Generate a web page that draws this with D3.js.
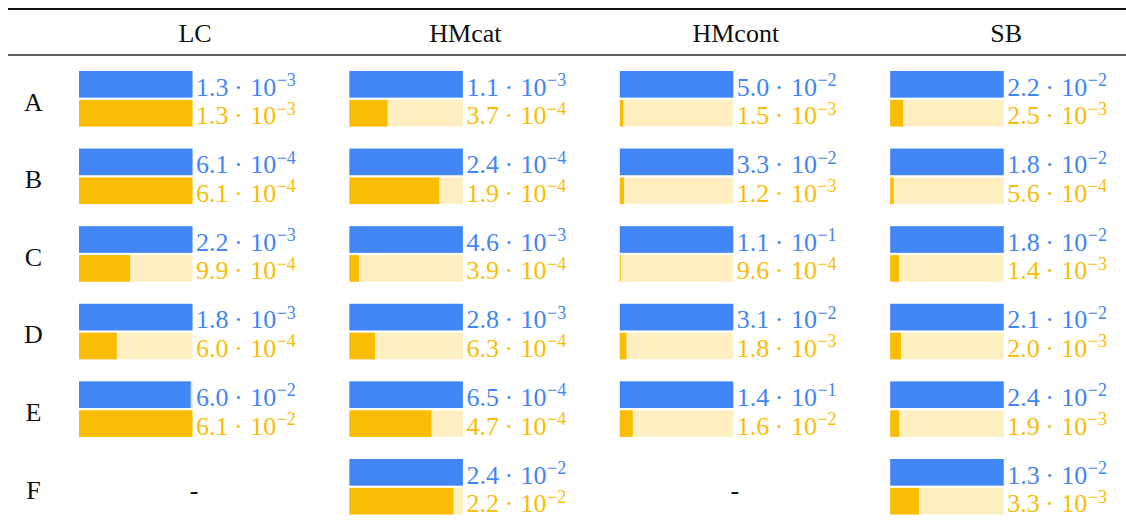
<!DOCTYPE html>
<html>
<head>
<meta charset="utf-8">
<script src="https://cdn.jsdelivr.net/npm/d3@7"></script>
<style>
  html, body { margin: 0; padding: 0; background: #fff; }
  svg { display: block; }
  text { font-family: "Liberation Serif", "DejaVu Serif", serif; }
</style>
</head>
<body>
<svg id="chart" width="1126" height="530"></svg>
<script>
// Methods (columns) and cases (rows)
const methods = ["LC", "HMcat", "HMcont", "SB"];
const cases = ["A", "B", "C", "D", "E", "F"];

// Blue series, one array per method (null = not available)
const blueLC     = [1.3e-3, 6.1e-4, 2.2e-3, 1.8e-3, 6.0e-2, null];
const blueHMcat  = [1.1e-3, 2.4e-4, 4.6e-3, 2.8e-3, 6.5e-4, 2.4e-2];
const blueHMcont = [5.0e-2, 3.3e-2, 1.1e-1, 3.1e-2, 1.4e-1, null];
const blueSB     = [2.2e-2, 1.8e-2, 1.8e-2, 2.1e-2, 2.4e-2, 1.3e-2];

// Yellow series, one array per method
const yellowLC     = [1.3e-3, 6.1e-4, 9.9e-4, 6.0e-4, 6.1e-2, null];
const yellowHMcat  = [3.7e-4, 1.9e-4, 3.9e-4, 6.3e-4, 4.7e-4, 2.2e-2];
const yellowHMcont = [1.5e-3, 1.2e-3, 9.6e-4, 1.8e-3, 1.6e-2, null];
const yellowSB     = [2.5e-3, 5.6e-4, 1.4e-3, 2.0e-3, 1.9e-3, 3.3e-3];

const blueByMethod = { LC: blueLC, HMcat: blueHMcat, HMcont: blueHMcont, SB: blueSB };
const yellowByMethod = { LC: yellowLC, HMcat: yellowHMcat, HMcont: yellowHMcont, SB: yellowSB };

const COLORS = {
  blue: "#4285F4", blueTrack: "#D2E3FC",
  yellow: "#FBBC04", yellowTrack: "#FEEFC3",
  ink: "#111"
};

const svg = d3.select("#chart");

// Layout
const barW = 113.5, barH = 26.6, barGap = 2.3;
const colX = d3.scalePoint().domain(methods).range([79, 79 + 3 * 270.4]);
const rowY = d3.scalePoint().domain(cases).range([71, 71 + 5 * 77.6]);

// Table rules
svg.append("line").attr("x1", 8).attr("x2", 1126).attr("y1", 9).attr("y2", 9)
  .attr("stroke", COLORS.ink).attr("stroke-width", 2);
svg.append("line").attr("x1", 8).attr("x2", 1126).attr("y1", 55).attr("y2", 55)
  .attr("stroke", "#2a2a2a").attr("stroke-width", 1.4);

// Column headers
svg.selectAll("text.header").data(methods).join("text")
  .attr("class", "header")
  .attr("x", d => colX(d) + 116)
  .attr("y", 41.5)
  .attr("text-anchor", "middle")
  .attr("font-size", 26)
  .attr("fill", COLORS.ink)
  .text(d => d);

// Row labels
svg.selectAll("text.rowlabel").data(cases).join("text")
  .attr("class", "rowlabel")
  .attr("x", 33.5)
  .attr("y", d => rowY(d) + 39.5)
  .attr("text-anchor", "middle")
  .attr("font-size", 26)
  .attr("fill", COLORS.ink)
  .text(d => d);

// Scientific notation label: mantissa · 10^exp
function sciLabel(sel, v, color) {
  const e = Math.floor(Math.log10(v) + 1e-9);
  const m = (v / Math.pow(10, e)).toFixed(1);
  sel.attr("fill", color).attr("font-size", 26);
  sel.append("tspan").text(m);
  sel.append("tspan").attr("dx", 5.5).text("\u00B7");
  sel.append("tspan").attr("dx", 7.5).text("10");
  sel.append("tspan").attr("dy", -9.7).attr("dx", 0.5).attr("font-size", 18)
    .text("\u2212" + Math.abs(e));
}

const cells = [];
methods.forEach(m => cases.forEach((c, i) => {
  cells.push({ method: m, row: c, blue: blueByMethod[m][i], yellow: yellowByMethod[m][i] });
}));

cells.forEach(d => {
  const x0 = colX(d.method), y0 = rowY(d.row);
  const g = svg.append("g").attr("transform", `translate(${x0},${y0})`);
  if (d.blue == null) {
    g.append("text")
      .attr("x", 115).attr("y", 39.5)
      .attr("text-anchor", "middle")
      .attr("font-size", 26)
      .attr("fill", COLORS.ink)
      .text("-");
    return;
  }
  const w = d3.scaleLinear().domain([0, Math.max(d.blue, d.yellow)]).range([0, barW]);
  const yBlue = 0, yYellow = barH + barGap;

  // tracks
  g.append("rect").attr("x", 0).attr("y", yBlue).attr("width", barW).attr("height", barH)
    .attr("fill", COLORS.blueTrack);
  g.append("rect").attr("x", 0).attr("y", yYellow).attr("width", barW).attr("height", barH)
    .attr("fill", COLORS.yellowTrack);
  // bars
  g.append("rect").attr("x", 0).attr("y", yBlue).attr("width", w(d.blue)).attr("height", barH)
    .attr("fill", COLORS.blue);
  g.append("rect").attr("x", 0).attr("y", yYellow).attr("width", w(d.yellow)).attr("height", barH)
    .attr("fill", COLORS.yellow);

  // value labels
  g.append("text").attr("x", barW + 3.5).attr("y", yBlue + barH - 2)
    .call(sciLabel, d.blue, COLORS.blue);
  g.append("text").attr("x", barW + 3.5).attr("y", yYellow + barH - 2.3)
    .call(sciLabel, d.yellow, COLORS.yellow);
});
</script>
</body>
</html>
